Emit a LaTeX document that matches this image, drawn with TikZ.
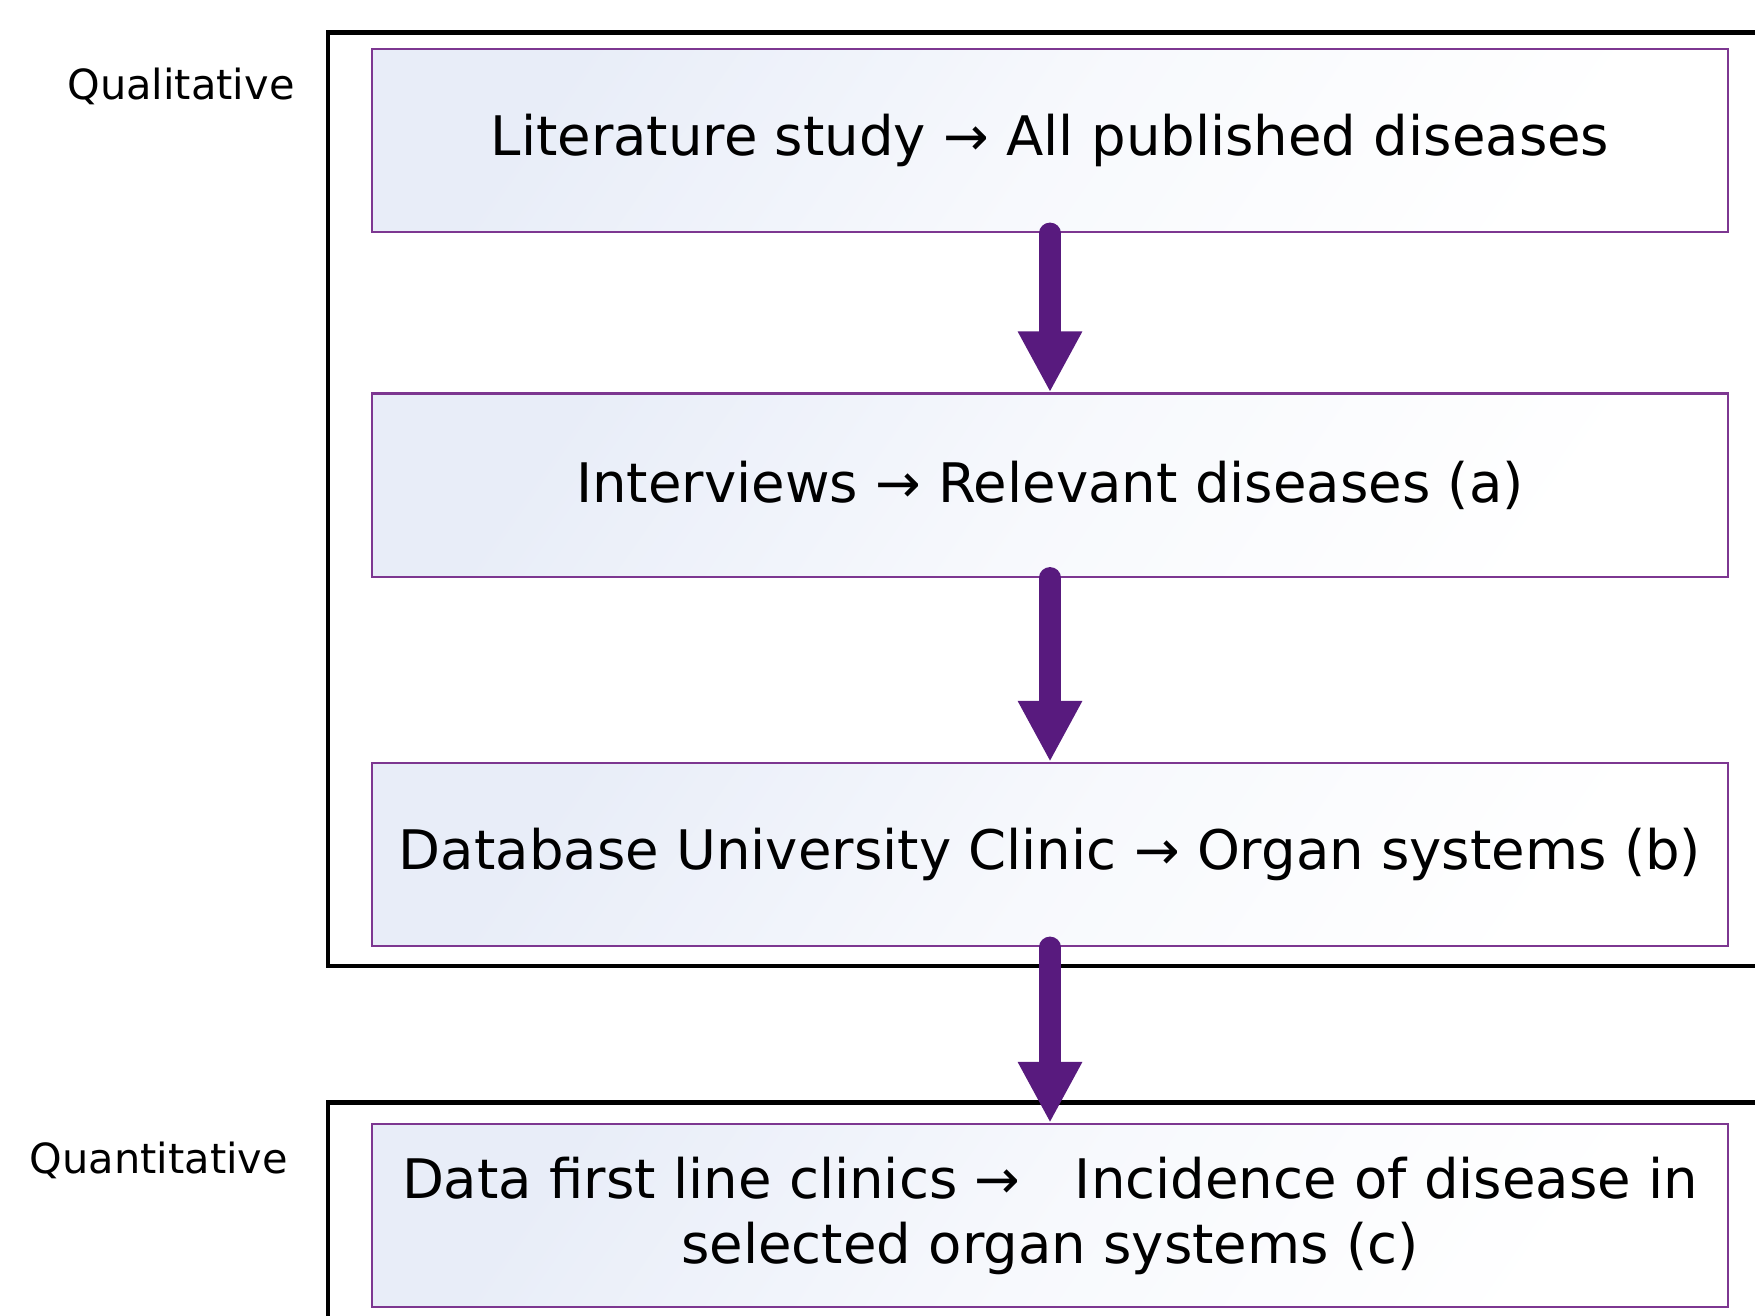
\documentclass[tikz,border=0pt]{standalone}
\usepackage{fontspec}
\setmainfont{DejaVu Sans}
\usetikzlibrary{arrows.meta,positioning}

\definecolor{stepline}{RGB}{125,55,145}
\definecolor{stepfill}{RGB}{232,237,248}
\definecolor{flowarrow}{RGB}{88,26,126}

\tikzset{
	stepbox/.style={draw=stepline, line width=0.6pt,
		top color=stepfill, bottom color=white, middle color=white!65!stepfill,
		shading angle=55,
		minimum width=13.56cm, minimum height=1.83cm, inner sep=0pt,
		align=center, font=\fontsize{15.5}{18.5}\selectfont},
	flow/.style={draw=flowarrow, line width=6pt, line cap=round,
		-{Triangle[width=0.6cm,length=0.61cm]}},
	phaseframe/.style={draw=black, line width=1.3pt},
	phaselabel/.style={anchor=base, font=\fontsize{11.8}{14}\selectfont}
}

\begin{document}
\begin{tikzpicture}[x=0.01cm,y=-0.01cm]
\useasboundingbox (0,0) rectangle (1755,1315);
\clip (0,0) rectangle (1755,1315);

%----------------------------
% Frames of the two phases
%----------------------------
\draw[phaseframe] (328,32.5) rectangle (1800,966);
\node[phaselabel] (qual) at (181,99) {Qualitative};

\draw[phaseframe] (328,1102.5) rectangle (1800,1400);
\node[phaselabel] (quant) at (159,1173) {Quantitative};

%----------------------------
% Steps
%----------------------------
\node[stepbox] (lit) at (1050,140.5) {Literature study → All published diseases};
\node[stepbox] (intv) at (1050,485) {Interviews → Relevant diseases (a)};
\node[stepbox] (dbase) at (1050,854.5) {Database University Clinic → Organ systems (b)};
\node[stepbox] (fline) at (1050,1215.5)
	{Data first line clinics →\hspace{1em}Incidence of disease in\\ selected organ systems (c)};

%----------------------------
% Arrows between the steps
%----------------------------
\draw[flow] (lit.south) -- (intv.north);
\draw[flow] (intv.south) -- (dbase.north);
\draw[flow] (dbase.south) -- (fline.north);

\end{tikzpicture}
\end{document}
